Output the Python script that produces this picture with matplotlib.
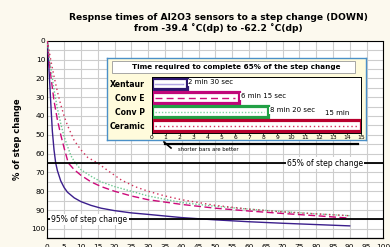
import matplotlib
matplotlib.use("Agg")
import matplotlib.pyplot as plt
from matplotlib.patches import Rectangle
from matplotlib.lines import Line2D

# ---------------- data ----------------
x_xentaur = [0, 0.5, 1, 1.5, 2, 2.5, 3, 4, 5, 6, 8, 10, 13, 16, 20, 25, 30, 40, 50, 60, 70, 80, 90]
y_xentaur = [0, 15, 32, 48, 58, 65, 69, 74.5, 78, 80.5, 83.5, 85.5, 87.5, 89, 90.3, 91.5, 92.3, 94, 95.2, 96.2, 97, 97.7, 98.4]

x_conv_e = [0, 1, 2, 3, 4, 5, 6.25, 8, 10, 13, 16, 20, 25, 30, 40, 50, 60, 70, 80, 90]
y_conv_e = [0, 18, 32, 42, 50, 57, 65, 68.5, 71.5, 75, 77.5, 80, 82.5, 84.5, 87, 89, 90.5, 91.8, 93, 94.3]

x_conv_p = [0, 1, 2, 3, 4, 5, 6, 7, 8.33, 10, 13, 16, 20, 25, 30, 40, 50, 60, 70, 80, 90]
y_conv_p = [0, 14, 26, 36, 44, 51, 56, 61, 65, 68.5, 72, 75, 77.5, 80, 82.5, 86, 88, 89.5, 90.8, 92, 93]

x_ceramic = [0, 1, 2, 3, 4, 5, 6, 8, 10, 12, 15, 18, 22, 26, 30, 35, 40, 50, 60, 70, 80, 90]
y_ceramic = [0, 10, 19, 27, 34, 40, 45, 53, 58, 62, 65, 69, 74, 77.5, 80, 82.5, 84.5, 87.5, 89.5, 91, 92, 93]

sensors = ["Xentaur", "Conv E", "Conv P", "Ceramic"]
minutes_to_65 = [2.5, 6.25, 8.33, 15]
time_labels = ["2 min 30 sec", "6 min 15 sec", "8 min 20 sec", "15 min"]

x_ticks = list(range(0, 101, 5))
y_ticks = list(range(0, 101, 10))
bar_ticks = list(range(0, 16))

ref_levels = [65, 95]
ref_labels = ["65% of step change", "95% of step change"]

title = "Respnse times of Al2O3 sensors to a step change (DOWN)\nfrom -39.4 \u02daC(dp) to -62.2 \u02daC(dp)"
inset_title = "Time required to complete 65% of the step change"

# ---------------- style ----------------
W, H = 390, 247
BG = "#FCF9EE"
c_x = "#3B1E8C"
c_e = "#CC0A7A"
c_p = "#6CC890"
c_c = "#D0305A"

def fx(px):
    return px / W

def fy(py):
    return 1 - py / H

fig = plt.figure(figsize=(W / 100, H / 100), dpi=100, facecolor=BG)

# main axes
L, R, T, B = 47.3, 383.3, 40.7, 238.3
ax = fig.add_axes([fx(L), fy(B), fx(R - L), (B - T) / H])
ax.set_facecolor("white")
ax.set_xlim(0, 100)
ax.set_ylim(105, 0)
ax.set_xticks(x_ticks)
ax.set_yticks(y_ticks)
ax.set_yticks(list(range(0, 106, 5)), minor=True)
ax.grid(True, which="both", color="#CDCDCD", lw=0.8)
ax.tick_params(axis="both", which="both", length=0, labelsize=5.3, pad=1.5)
ax.tick_params(axis="x", pad=4)
for s in ["top", "right", "left"]:
    ax.spines[s].set_linestyle((0, (1, 1)))
    ax.spines[s].set_linewidth(0.8)
ax.spines["bottom"].set_linewidth(0.9)
ax.set_axisbelow(True)

ax.plot(x_xentaur, y_xentaur, color=c_x, lw=1.0, zorder=3)
ax.plot(x_conv_e, y_conv_e, color=c_e, lw=1.0, dashes=(5, 2.5), zorder=3)
ax.plot(x_conv_p, y_conv_p, color=c_p, lw=1.0, ls=(0, (1, 1.3)), zorder=3)
ax.plot(x_ceramic, y_ceramic, color=c_c, lw=1.0, ls=(0, (1, 2.2)), zorder=3)

for lvl in ref_levels:
    ax.axhline(lvl, color="black", lw=1.3, zorder=4)
ax.text(82.6, ref_levels[0], ref_labels[0], ha="center", va="center", fontsize=5.5,
        bbox=dict(facecolor="white", edgecolor="none", pad=0.8), zorder=5)
ax.text(1.2, ref_levels[1], ref_labels[1], ha="left", va="center", fontsize=5.5,
        bbox=dict(facecolor="white", edgecolor="none", pad=0.8), zorder=5)

fig.text(fx(18), fy(139.5), "% of step change", rotation=90, ha="center", va="center",
         fontsize=6.0, fontweight="bold")
fig.text(fx(218), fy(23), title, ha="center", va="center", fontsize=6.6,
         fontweight="bold", linespacing=1.15)

# inset background
inset_bg = fig.add_axes([fx(107), fy(140), fx(366 - 107), (140 - 58) / H])
inset_bg.set_facecolor("#FFFBDC")
inset_bg.set_xticks([])
inset_bg.set_yticks([])
for s in inset_bg.spines.values():
    s.set_color("#4A90C8")
    s.set_linewidth(1.0)

fig.patches.append(Rectangle((fx(112), fy(73.5)), fx(355 - 112), (73.5 - 61) / H,
                             transform=fig.transFigure, facecolor="white",
                             edgecolor="#999999", lw=0.6, zorder=5))
fig.text(fx(236), fy(67.3), inset_title, ha="center", va="center", fontsize=5.2,
         fontweight="bold", zorder=6)

# bar axes
bl, br, bt, bb = 151.7, 361, 76.7, 132.7
bax = fig.add_axes([fx(bl), fy(bb), fx(br - bl), (bb - bt) / H])
bax.set_facecolor("white")
bax.set_xlim(0, 15)
bax.set_ylim(len(sensors) - 0.5, -0.5)
bax.set_xticks(bar_ticks)
bax.set_yticks(range(len(sensors)))
bax.set_yticklabels(sensors, fontsize=5.6, fontweight="bold")
bax.tick_params(axis="x", length=1.5, width=0.5, labelsize=4.3, pad=0.5)
bax.tick_params(axis="y", length=0, pad=5)
for s in bax.spines.values():
    s.set_linewidth(0.7)

edge_cols = ["#2E1770", "#C0077A", "#22A045", "#B8002E"]
inner_cols = ["#9C8CDC", c_e, "#7FD6A0", c_c]
inner_styles = ["-", (0, (5, 3)), (0, (1, 1.3)), (0, (1, 2))]
ypos = list(range(len(sensors)))
bax.barh(ypos, minutes_to_65, height=0.8, color="white", edgecolor=edge_cols, lw=2.3)
for i, v in enumerate(minutes_to_65):
    bax.plot([0.25, v - 0.25], [i, i], color=inner_cols[i], ls=inner_styles[i], lw=1.0)
bax.plot([0.25, minutes_to_65[0] - 0.25], [0, 0], color="white", lw=0.35)
for i in range(3):
    bax.text(minutes_to_65[i] + 0.12, i - 0.1, time_labels[i], ha="left", va="center",
             fontsize=5.0, bbox=dict(facecolor="white", edgecolor="none", pad=0.3))
bax.text(13.3, 2.1, time_labels[3], ha="center", va="center", fontsize=5.0)

# "shorter bars are better" annotation
fig.add_artist(Line2D([fx(165), fx(358)], [fy(143.5), fy(143.5)], color="black", lw=1.6))
fig.add_artist(Line2D([fx(164), fx(171)], [fy(142), fy(148)], color="black", lw=1.2))
fig.text(fx(178), fy(149.5), "shorter bars are better", ha="left", va="center", fontsize=3.8)

fig.savefig("out.png", dpi=100, facecolor=BG)
